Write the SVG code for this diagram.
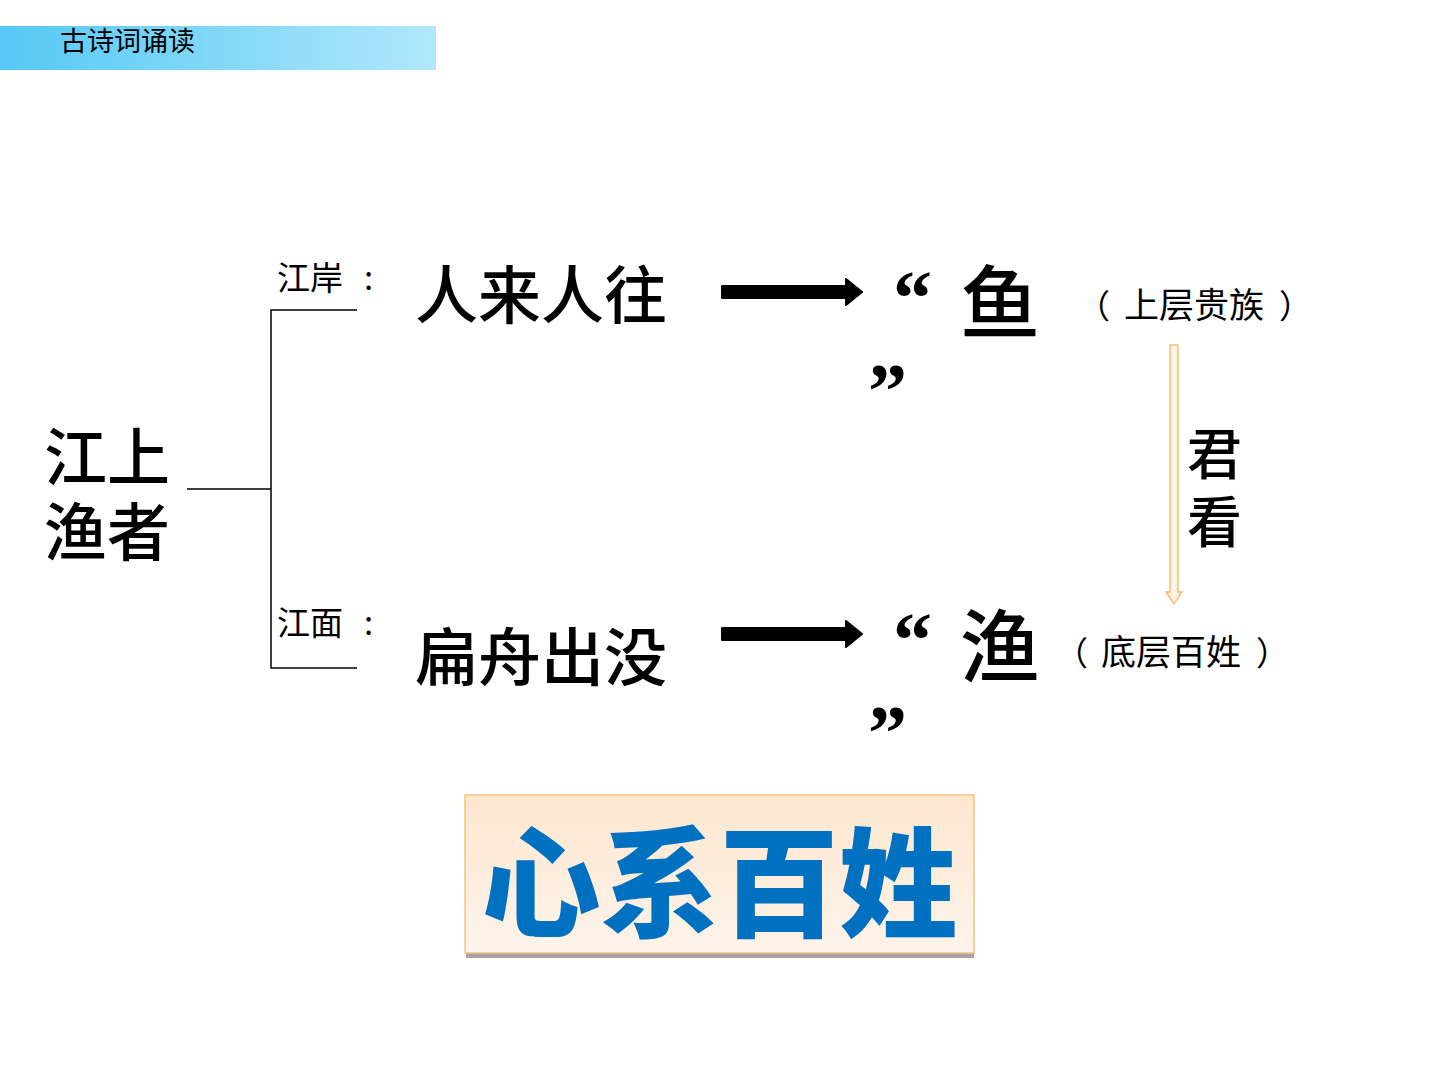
<svg xmlns="http://www.w3.org/2000/svg" width="1440" height="1080" viewBox="0 0 1440 1080">
<style>
.cjk{font-family:"Noto Sans CJK SC","Noto Sans",sans-serif;fill:#000}
.big{font-size:63px;font-weight:500}
.mid{font-size:33px}
.q{font-family:"Liberation Serif",serif;font-weight:700;font-size:78px}
.line{stroke:#000;stroke-width:1.5;fill:none}
</style>
<defs>
<linearGradient id="hdr" x1="0" y1="0" x2="1" y2="0">
<stop offset="0" stop-color="#55c8f5"/><stop offset="1" stop-color="#b0e8fb"/>
</linearGradient>
<linearGradient id="box" x1="0" y1="0" x2="0" y2="1">
<stop offset="0" stop-color="#fde6cf"/><stop offset="1" stop-color="#fef4ea"/>
</linearGradient>
<linearGradient id="oarr" x1="0" y1="0" x2="1" y2="0">
<stop offset="0" stop-color="#fde2c0"/><stop offset="0.5" stop-color="#fff6ec"/><stop offset="1" stop-color="#fde2c0"/>
</linearGradient>
</defs>
<rect width="1440" height="1080" fill="#fff"/>
<g id="header">
<rect x="0" y="26" width="436" height="44" fill="url(#hdr)"/>
<text x="60" y="51" class="cjk" font-size="27">古诗词诵读</text>
</g>
<g id="connectors">
<polyline class="line" points="187,489 271,489"/>
<polyline class="line" points="357,310 271,310 271,668 357,668"/>
<path d="M722,286 H846 V279 L862,292 L846,305 V298 H722 Z" fill="#000" stroke="#000" stroke-width="2" stroke-linejoin="round"/>
<path d="M722,628 H846 V621 L862,634 L846,647 V640 H722 Z" fill="#000" stroke="#000" stroke-width="2" stroke-linejoin="round"/>
<path d="M1170,345 H1178 V592 H1182 L1174,604 L1166,592 H1170 Z" fill="url(#oarr)" stroke="#f2c27a" stroke-width="1.5"/>
</g>
<g id="node-root">
<text class="cjk big"><tspan x="44" y="480">江上</tspan><tspan x="44" y="555">渔者</tspan></text>
</g>
<g id="node-jiangan">
<text x="277" y="290" class="cjk mid">江岸<tspan x="364">:</tspan></text>
</g>
<g id="node-jiangmian">
<text x="277" y="635" class="cjk mid">江面<tspan x="364">:</tspan></text>
</g>
<g id="node-renlai">
<text x="415" y="318" class="cjk big">人来人往</text>
</g>
<g id="node-bianzhou">
<text x="415" y="680" class="cjk big">扁舟出没</text>
</g>
<g id="node-yu1">
<text x="893" y="324" class="q">“</text>
<text x="960" y="332" class="cjk" font-size="80" font-weight="500">鱼</text>
<text x="868" y="417" class="q">”</text>
</g>
<g id="node-yu2">
<text x="893" y="666" class="q">“</text>
<text x="960" y="676" class="cjk" font-size="80" font-weight="500">渔</text>
<text x="868" y="759" class="q">”</text>
</g>
<g id="node-shangceng">
<text y="318" class="cjk mid"><tspan x="1077">（</tspan><tspan x="1124" font-size="35">上层贵族</tspan><tspan x="1279">）</tspan></text>
</g>
<g id="node-diceng">
<text y="665" class="cjk mid"><tspan x="1055">（</tspan><tspan x="1101" font-size="35">底层百姓</tspan><tspan x="1256">）</tspan></text>
</g>
<g id="node-junkan">
<text class="cjk" font-size="55" font-weight="500"><tspan x="1187" y="474">君</tspan><tspan x="1187" y="542">看</tspan></text>
</g>
<g id="node-xinxi">
<rect x="466" y="798" width="508" height="160" fill="#a6a6a6"/>
<rect x="465" y="795" width="509" height="158" fill="url(#box)" stroke="#f6c27c" stroke-width="1.5"/>
<text x="719.5" y="928" text-anchor="middle" font-family="'Noto Sans CJK SC',sans-serif" font-weight="900" font-size="119" fill="#0070c0">心系百姓</text>
</g>
</svg>
